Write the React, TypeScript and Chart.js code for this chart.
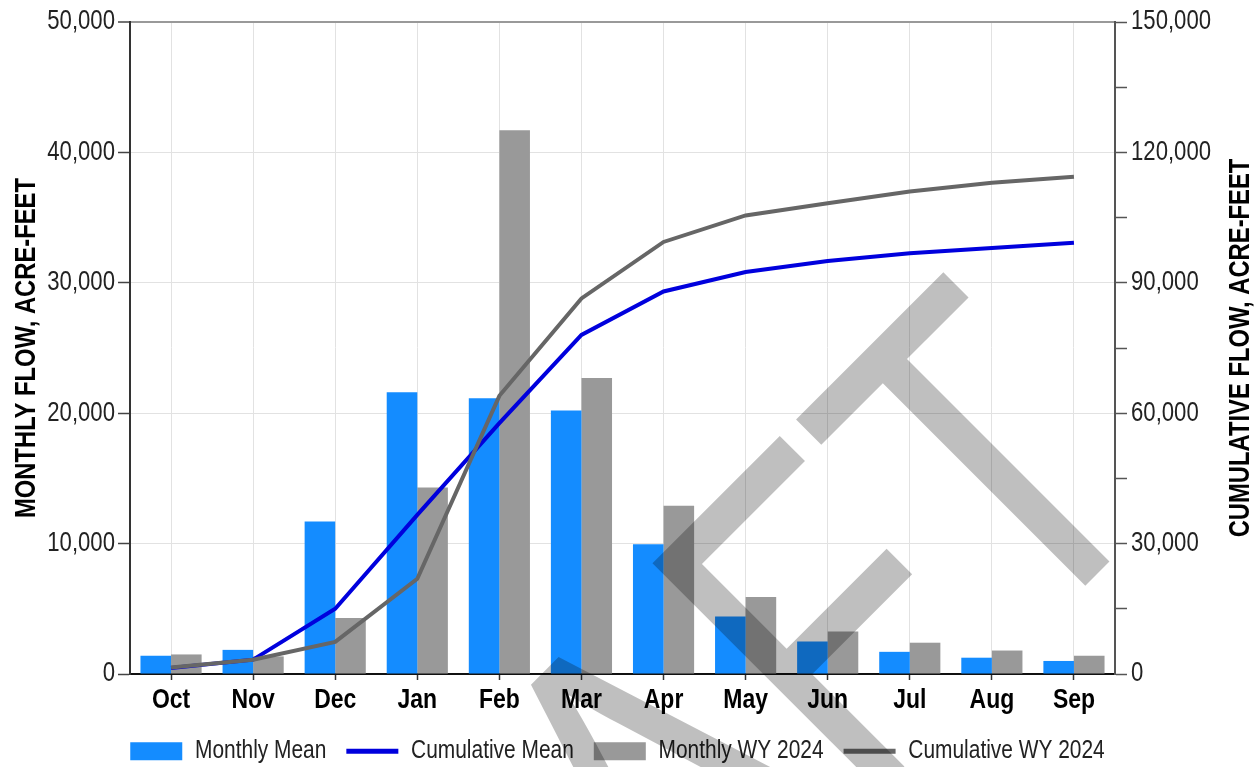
import { useEffect, useRef } from 'react';
import { Chart, registerables } from 'chart.js';

Chart.register(...registerables);

// Water-year months and flows (acre-feet)
const months = ['Oct', 'Nov', 'Dec', 'Jan', 'Feb', 'Mar', 'Apr', 'May', 'Jun', 'Jul', 'Aug', 'Sep'];
const monthlyMean = [1400, 1850, 11700, 21600, 21150, 20200, 9950, 4400, 2500, 1700, 1250, 1000];
const monthlyWY2024 = [1500, 1350, 4300, 14300, 41700, 22700, 12900, 5900, 3250, 2400, 1800, 1400];
const cumulativeMean = [1400, 3300, 15000, 36600, 57700, 78000, 88000, 92500, 95000, 96800, 98000, 99200];
const cumulativeWY2024 = [1500, 3300, 7400, 21900, 64000, 86400, 99400, 105500, 108300, 111000, 113000, 114400];

const seriesLabels = ['Monthly Mean', 'Cumulative Mean', 'Monthly WY 2024', 'Cumulative WY 2024'];
const leftTitle = 'MONTHLY FLOW, ACRE-FEET';
const rightTitle = 'CUMULATIVE FLOW, ACRE-FEET';
const watermark = 'DRAFT';

const FONT = "'Liberation Sans', Arial, sans-serif";
// Horizontal squeeze applied to every piece of canvas text (narrow type style)
const CONDENSE = 0.82;

const fmt = (v: number) => v.toLocaleString('en-US');

// Makes the context draw and measure text horizontally condensed.
function condenseText(ctx: CanvasRenderingContext2D, factor: number) {
  const fill = ctx.fillText.bind(ctx);
  const measure = ctx.measureText.bind(ctx);
  (ctx as any).fillText = (text: string, x: number, y: number, maxWidth?: number) => {
    ctx.save();
    ctx.translate(x, y);
    ctx.scale(factor, 1);
    if (maxWidth === undefined || maxWidth === null) fill(text, 0, 0);
    else fill(text, 0, 0, maxWidth / factor);
    ctx.restore();
  };
  (ctx as any).measureText = (text: string) => {
    const m = measure(text);
    return {
      width: m.width * factor,
      actualBoundingBoxLeft: m.actualBoundingBoxLeft * factor,
      actualBoundingBoxRight: m.actualBoundingBoxRight * factor,
      actualBoundingBoxAscent: m.actualBoundingBoxAscent,
      actualBoundingBoxDescent: m.actualBoundingBoxDescent,
      fontBoundingBoxAscent: m.fontBoundingBoxAscent,
      fontBoundingBoxDescent: m.fontBoundingBoxDescent,
    } as TextMetrics;
  };
}

// Rotated axis titles and the diagonal watermark
const overlayPlugin = {
  id: 'overlay',
  afterDraw(chart: any) {
    const { ctx, chartArea } = chart;
    const midY = (chartArea.top + chartArea.bottom) / 2;
    ctx.save();
    ctx.font = `bold 29px ${FONT}`;
    ctx.fillStyle = '#000';
    ctx.textAlign = 'center';
    ctx.textBaseline = 'alphabetic';
    const titles: [number, string][] = [
      [35, leftTitle],
      [1249, rightTitle],
    ];
    titles.forEach(([x, text]) => {
      ctx.save();
      ctx.translate(x, midY);
      ctx.rotate(-Math.PI / 2);
      ctx.fillText(text, 0, 0);
      ctx.restore();
    });

    ctx.save();
    ctx.translate(1177, 494);
    ctx.rotate(-Math.PI / 4);
    ctx.scale(0.96, 1);
    ctx.font = `468px ${FONT}`;
    ctx.textAlign = 'right';
    ctx.textBaseline = 'alphabetic';
    ctx.fillStyle = 'rgba(0,0,0,0.25)';
    ctx.fillText(watermark, 0, 0);
    ctx.restore();

    ctx.restore();
  },
};

export default function App() {
  const canvasRef = useRef<HTMLCanvasElement | null>(null);

  useEffect(() => {
    const canvas = canvasRef.current;
    if (!canvas) return;
    const ctx = canvas.getContext('2d');
    if (!ctx) return;
    condenseText(ctx, CONDENSE);

    const chart = new Chart(ctx, {
      type: 'bar',
      data: {
        labels: months,
        datasets: [
          {
            type: 'bar',
            label: seriesLabels[0],
            data: monthlyMean,
            backgroundColor: '#148CFF',
            borderColor: '#148CFF',
            borderWidth: 0,
            yAxisID: 'y',
            order: 2,
          },
          {
            type: 'line',
            label: seriesLabels[1],
            data: cumulativeMean,
            borderColor: '#0000DD',
            backgroundColor: '#0000DD',
            borderWidth: 4,
            pointRadius: 0,
            tension: 0,
            fill: false,
            yAxisID: 'y2',
            order: 1,
          },
          {
            type: 'bar',
            label: seriesLabels[2],
            data: monthlyWY2024,
            backgroundColor: '#999999',
            borderColor: '#999999',
            borderWidth: 0,
            yAxisID: 'y',
            order: 2,
          },
          {
            type: 'line',
            label: seriesLabels[3],
            data: cumulativeWY2024,
            borderColor: '#666666',
            backgroundColor: '#666666',
            borderWidth: 4,
            pointRadius: 0,
            tension: 0,
            fill: false,
            yAxisID: 'y2',
            order: 0,
          },
        ] as any,
      },
      options: {
        responsive: false,
        animation: false,
        devicePixelRatio: 1,
        layout: { padding: { top: 22, left: -21, right: 0, bottom: -7 } },
        datasets: {
          bar: { categoryPercentage: 0.745, barPercentage: 1 },
        } as any,
        scales: {
          x: {
            grid: {
              offset: false,
              color: '#E2E2E2',
              lineWidth: 1,
              tickLength: 6,
              tickColor: '#333',
              tickWidth: 1.5,
            },
            border: { color: '#111', width: 2 },
            ticks: {
              color: '#000',
              padding: 3,
              font: { family: FONT, size: 28, weight: 'bold' },
            },
            afterFit: (scale: any) => {
              scale.height = 44.5;
            },
          },
          y: {
            position: 'left',
            min: 0,
            max: 50000,
            ticks: {
              stepSize: 10000,
              color: '#222',
              padding: 3,
              font: { family: FONT, size: 27 },
              callback: (v: any) => fmt(Number(v)),
            },
            grid: {
              color: (c: any) => (c.tick && c.tick.value === 50000 ? '#999' : '#E2E2E2'),
              lineWidth: (c: any) => (c.tick && c.tick.value === 50000 ? 2 : 1),
              tickLength: 12,
              tickColor: '#444',
              tickWidth: 1.5,
            },
            border: { color: '#333', width: 2 },
            afterFit: (scale: any) => {
              scale.width = 151;
            },
          },
          y2: {
            position: 'right',
            min: 0,
            max: 150000,
            ticks: {
              stepSize: 15000,
              color: '#222',
              padding: 4,
              font: { family: FONT, size: 27 },
              callback: (v: any) => (Number(v) % 30000 === 0 ? fmt(Number(v)) : ''),
            },
            grid: {
              drawOnChartArea: false,
              tickLength: 12,
              tickColor: '#555',
              tickWidth: 1.5,
            },
            border: { color: '#555', width: 2 },
            afterFit: (scale: any) => {
              scale.width = 141;
            },
          },
        },
        plugins: {
          tooltip: { enabled: false },
          legend: {
            position: 'bottom',
            labels: {
              usePointStyle: true,
              pointStyleWidth: 52,
              boxHeight: 18,
              padding: 20,
              color: '#222',
              font: { family: FONT, size: 25.5 },
              generateLabels: (ch: any) =>
                ch.data.datasets.map((ds: any, i: number) => ({
                  text: ds.label,
                  datasetIndex: i,
                  fillStyle: ds.type === 'bar' ? ds.backgroundColor : 'rgba(0,0,0,0)',
                  strokeStyle: ds.borderColor,
                  lineWidth: ds.type === 'bar' ? 0 : 5,
                  pointStyle: ds.type === 'bar' ? 'rect' : 'line',
                  hidden: false,
                  fontColor: '#222',
                })),
            },
          },
        },
      },
      plugins: [overlayPlugin],
    });
    return () => chart.destroy();
  }, []);

  return (
    <div style={{ position: 'fixed', left: 0, top: 0, width: 1256, height: 767, background: '#fff' }}>
      <canvas ref={canvasRef} width={1256} height={767} style={{ display: 'block', width: 1256, height: 767 }} />
    </div>
  );
}
